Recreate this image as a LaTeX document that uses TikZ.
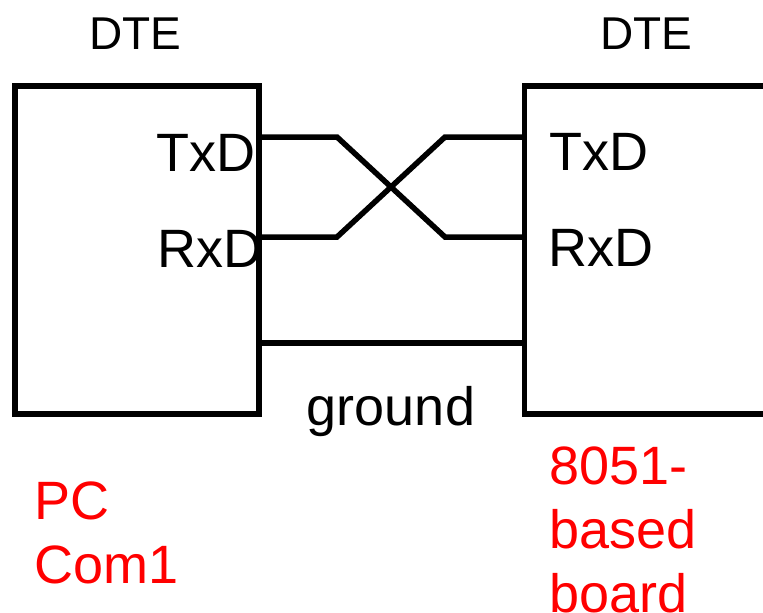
\documentclass[tikz,border=0pt]{standalone}
\usepackage{fontspec}
\setmainfont{Liberation Sans}
\begin{document}
\begin{tikzpicture}[x=1pt,y=-1pt,
  wire/.style={line width=5.5pt,black},
  dte/.style={draw,line width=5.5pt,rectangle,inner sep=0pt,outer sep=0pt,anchor=north west},
  big/.style={font=\fontsize{54}{62}\selectfont,inner sep=0pt},
  title/.style={font=\fontsize{46}{54}\selectfont,inner sep=0pt,anchor=base},
  redtxt/.style={font=\fontsize{54}{62}\selectfont,inner sep=0pt,text=red,anchor=base west}]
\useasboundingbox (0,0) rectangle (763,613);
\clip (0,0) rectangle (763,613);
% boxes
\node[dte,minimum width=244pt,minimum height=328pt] (lbox) at (15,86) {};
\node[dte,minimum width=300pt,minimum height=328pt] (rbox) at (524.5,86) {};
% titles
\node[title] (ldte) at (135,49) {DTE};
\node[title] (rdte) at (646,49) {DTE};
% pin labels
\node[big,anchor=base east] (ltxd) at (256,171) {TxD};
\node[big,anchor=base east] (lrxd) at (263,267) {RxD};
\node[big,anchor=base west] (rtxd) at (549,170) {TxD};
\node[big,anchor=base west] (rrxd) at (548,266) {RxD};
\node[big,anchor=base] (gnd) at (391,425) {ground};
% red captions
\node[redtxt] (pc) at (34,519) {PC};
\node[redtxt] (com) at (34,583) {Com1};
\node[redtxt] (b1t) at (549,484) {8051-};
\node[redtxt] (b2t) at (549,548) {based};
\node[redtxt] (b3t) at (549,612) {board};
% connection points
\coordinate (ltx) at (259,137);
\coordinate (lrx) at (259,237);
\coordinate (lgnd) at (259,343);
\coordinate (rtx) at (524,137);
\coordinate (rrx) at (524,237);
\coordinate (rgnd) at (524,343);
\coordinate (a1) at (337,137);
\coordinate (a2) at (445,237);
\coordinate (b1) at (337,237);
\coordinate (b2) at (445,137);
% wires
\draw[wire] (ltx) -- (a1) -- (a2) -- (rrx);
\draw[wire] (lrx) -- (b1) -- (b2) -- (rtx);
\draw[wire] (lgnd) -- (rgnd);
\end{tikzpicture}
\end{document}
